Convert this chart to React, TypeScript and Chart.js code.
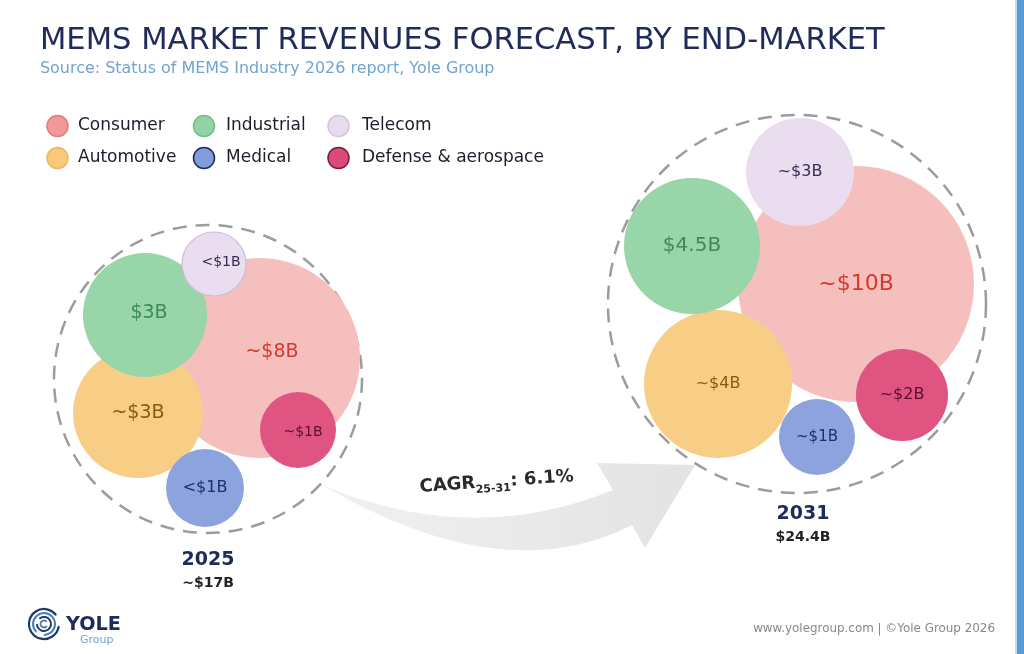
import { useEffect, useRef } from 'react';
import { Chart, registerables } from 'chart.js';

Chart.register(...registerables);

const FONT = '"DejaVu Sans", "Noto Sans", sans-serif';

// ---- data ----
const segments = ['Consumer', 'Industrial', 'Telecom', 'Automotive', 'Medical', 'Defense & aerospace'];
const years = ['2025', '2031'];
const totals = ['~$17B', '$24.4B'];
const cagrValue = '6.1%';
const cagrPeriod = '25-31';

const labels2025 = ['~$8B', '$3B', '<$1B', '~$3B', '<$1B', '~$1B'];
const labels2031 = ['~$10B', '$4.5B', '~$3B', '~$4B', '~$1B', '~$2B'];

// bubble radius (px) for each segment
const size2025 = [100, 62, 32, 65, 39, 38];
const size2031 = [118, 68, 54, 74, 38, 46];

// bubble placement in the packed clusters (scale units)
const posX2025 = [260, 145, 214, 138, 205, 298];
const posY2025 = [358, 315, 264, 413, 488, 430];
const posX2031 = [856, 692, 800, 718, 817, 902];
const posY2031 = [284, 246, 172, 384, 437, 395];

// ---- styling ----
const bubbleFill = ['#F4BFBD', '#98D5A8', '#EADDEF', '#F8CE87', '#8CA3DD', '#DF5480'];
const bubbleBorder = ['#F4BFBD', '#98D5A8', '#CDBBDA', '#F8CE87', '#8CA3DD', '#DF5480'];
const labelColor = ['#D43A30', '#3F8A55', '#3A2A55', '#8A5A0E', '#1F2D6D', '#5A1030'];
const legendFill = ['#EF9A98', '#93D3A3', '#E8DCEC', '#F8C979', '#819DDC', '#DC4B76'];
const legendBorder = ['#E07C7A', '#74BF86', '#D3C5DC', '#F0B75C', '#1E2A5E', '#7D1B3C'];
const drawOrder = [6, 4, 3, 5, 2, 1];

const labelSize2025 = [19, 19, 14, 19, 16, 14];
const labelSize2031 = [22, 20, 16, 16, 15, 16];
const labelDX2025 = [12, 4, 7, 0, 0, 5];
const labelDY2025 = [-6, -2, -2, 0, 0, 2];

const clusterX = [208, 797];
const clusterY = [379, 304];
const clusterR = [154, 189];
const yearX = [208, 803];
const yearY = [558, 512];

const TITLE = 'MEMS MARKET REVENUES FORECAST, BY END-MARKET';
const SUBTITLE = 'Source: Status of MEMS Industry 2026 report, Yole Group';
const FOOTER = 'www.yolegroup.com | \u00A9Yole Group 2026';

function fitFont(ctx: CanvasRenderingContext2D, text: string, weight: string, target: number, base: number) {
  ctx.font = `${weight} ${base}px ${FONT}`;
  const w = ctx.measureText(text).width;
  const size = (base * target) / w;
  ctx.font = `${weight} ${size}px ${FONT}`;
}

const decor = {
  id: 'decor',
  beforeDraw(chart: any) {
    const ctx: CanvasRenderingContext2D = chart.ctx;
    ctx.save();
    ctx.fillStyle = '#FFFFFF';
    ctx.fillRect(0, 0, chart.width, chart.height);
    ctx.restore();
  },
  beforeDatasetsDraw(chart: any) {
    const ctx: CanvasRenderingContext2D = chart.ctx;
    const xs = chart.scales.x;
    const ys = chart.scales.y;
    const P = (x: number, y: number): [number, number] => [xs.getPixelForValue(x), ys.getPixelForValue(y)];

    // growth arrow between the two clusters
    ctx.save();
    const tail = P(322, 485);
    const topCtrl = P(472, 548);
    const topJoin = P(613, 490);
    const headA = P(597, 463);
    const tip = P(695, 465);
    const headB = P(645, 548);
    const botJoin = P(632, 525);
    const botCtrl = P(503, 591);
    const grad = ctx.createLinearGradient(tail[0], 0, tip[0], 0);
    grad.addColorStop(0, '#F1F1F1');
    grad.addColorStop(1, '#E3E3E3');
    ctx.fillStyle = grad;
    ctx.beginPath();
    ctx.moveTo(tail[0], tail[1]);
    ctx.quadraticCurveTo(topCtrl[0], topCtrl[1], topJoin[0], topJoin[1]);
    ctx.lineTo(headA[0], headA[1]);
    ctx.lineTo(tip[0], tip[1]);
    ctx.lineTo(headB[0], headB[1]);
    ctx.lineTo(botJoin[0], botJoin[1]);
    ctx.quadraticCurveTo(botCtrl[0], botCtrl[1], tail[0], tail[1]);
    ctx.closePath();
    ctx.fill();
    ctx.restore();

    // dashed cluster outlines
    ctx.save();
    ctx.strokeStyle = '#9C9C9C';
    ctx.lineWidth = 2.5;
    ctx.setLineDash([14, 9]);
    for (let k = 0; k < clusterX.length; k++) {
      const [cx, cy] = P(clusterX[k], clusterY[k]);
      ctx.beginPath();
      ctx.arc(cx, cy, clusterR[k], 0, Math.PI * 2);
      ctx.stroke();
    }
    ctx.restore();
  },
  afterDatasetsDraw(chart: any) {
    const ctx: CanvasRenderingContext2D = chart.ctx;
    const xs = chart.scales.x;
    const ys = chart.scales.y;

    // values inside bubbles
    ctx.save();
    ctx.textAlign = 'center';
    ctx.textBaseline = 'middle';
    segments.forEach((_, i) => {
      const meta = chart.getDatasetMeta(i);
      const a = meta.data[0];
      const b = meta.data[1];
      ctx.fillStyle = labelColor[i];
      ctx.font = `normal ${labelSize2025[i]}px ${FONT}`;
      ctx.fillText(labels2025[i], a.x + labelDX2025[i], a.y + labelDY2025[i]);
      ctx.font = `normal ${labelSize2031[i]}px ${FONT}`;
      ctx.fillText(labels2031[i], b.x, b.y);
    });
    ctx.restore();

    // year + total under each cluster
    ctx.save();
    ctx.textAlign = 'center';
    ctx.textBaseline = 'alphabetic';
    years.forEach((yr, k) => {
      const x = xs.getPixelForValue(yearX[k]);
      const y = ys.getPixelForValue(yearY[k]);
      ctx.fillStyle = '#1F2B5B';
      ctx.font = `bold 19px ${FONT}`;
      ctx.fillText(yr, x, y + 7);
      ctx.fillStyle = '#222222';
      ctx.font = `bold 14px ${FONT}`;
      ctx.fillText(totals[k], x, y + 29);
    });
    ctx.restore();

    // CAGR label on the arrow
    ctx.save();
    ctx.translate(xs.getPixelForValue(420), ys.getPixelForValue(492));
    ctx.rotate((-4 * Math.PI) / 180);
    ctx.fillStyle = '#2A2A2A';
    ctx.textAlign = 'left';
    ctx.textBaseline = 'alphabetic';
    ctx.font = `bold 18px ${FONT}`;
    ctx.fillText('CAGR', 0, 0);
    let cx = ctx.measureText('CAGR').width;
    ctx.font = `bold 11px ${FONT}`;
    ctx.fillText(cagrPeriod, cx, 5);
    cx += ctx.measureText(cagrPeriod).width;
    ctx.font = `bold 18px ${FONT}`;
    ctx.fillText(': ' + cagrValue, cx, 0);
    ctx.restore();

    // header
    ctx.save();
    ctx.textAlign = 'left';
    ctx.textBaseline = 'alphabetic';
    ctx.fillStyle = '#1F2B5B';
    fitFont(ctx, TITLE, 'normal', 845, 30);
    ctx.fillText(TITLE, 40, 48.5);
    ctx.fillStyle = '#6FA5D2';
    fitFont(ctx, SUBTITLE, 'normal', 455, 15);
    ctx.fillText(SUBTITLE, 40, 73);
    ctx.restore();

    // legend
    ctx.save();
    const colX = [57.5, 204, 338.5];
    const textX = [78, 226, 362];
    const rowY = [126, 158];
    ctx.textAlign = 'left';
    ctx.textBaseline = 'middle';
    segments.forEach((name, i) => {
      const c = i % 3;
      const r = Math.floor(i / 3);
      ctx.beginPath();
      ctx.arc(colX[c], rowY[r], 10.5, 0, Math.PI * 2);
      ctx.fillStyle = legendFill[i];
      ctx.fill();
      ctx.lineWidth = 1.5;
      ctx.strokeStyle = legendBorder[i];
      ctx.stroke();
      ctx.fillStyle = '#1D1D2B';
      ctx.font = `normal 17px ${FONT}`;
      ctx.fillText(name, textX[c], rowY[r]);
    });
    ctx.restore();

    // logo
    ctx.save();
    const lx = 44;
    const ly = 624;
    ctx.lineCap = 'round';
    const rings = [
      { r: 15, a0: 0.2, a1: 5.6, c: '#1F3A6B', w: 2.2 },
      { r: 11, a0: 2.4, a1: 7.8, c: '#4A7FB8', w: 2 },
      { r: 7, a0: 4.1, a1: 9.3, c: '#1F3A6B', w: 2 },
      { r: 3.5, a0: 0.8, a1: 5.4, c: '#4A7FB8', w: 1.8 },
    ];
    rings.forEach((g) => {
      ctx.beginPath();
      ctx.arc(lx, ly, g.r, g.a0, g.a1);
      ctx.strokeStyle = g.c;
      ctx.lineWidth = g.w;
      ctx.stroke();
    });
    ctx.textAlign = 'left';
    ctx.textBaseline = 'alphabetic';
    ctx.fillStyle = '#1F2B5B';
    fitFont(ctx, 'YOLE', 'bold', 55, 21);
    ctx.fillText('YOLE', 66, 630);
    ctx.fillStyle = '#6FA5D2';
    ctx.font = `normal 11px ${FONT}`;
    ctx.fillText('Group', 80, 643);
    ctx.restore();

    // footer
    ctx.save();
    ctx.textAlign = 'right';
    ctx.textBaseline = 'alphabetic';
    ctx.fillStyle = '#888888';
    fitFont(ctx, FOOTER, 'normal', 242, 12);
    ctx.fillText(FOOTER, 995, 632);
    ctx.restore();

    // right edge band
    ctx.save();
    ctx.fillStyle = '#C3DBEF';
    ctx.fillRect(1015, 0, 2, chart.height);
    ctx.fillStyle = '#5B9BD5';
    ctx.fillRect(1017, 0, 7, chart.height);
    ctx.restore();
  },
};

export default function App() {
  const canvasRef = useRef<HTMLCanvasElement>(null);

  useEffect(() => {
    document.body.style.margin = '0';
    const canvas = canvasRef.current;
    if (!canvas) return;

    const datasets = segments.map((name, i) => ({
      label: name,
      data: [
        { x: posX2025[i], y: posY2025[i], r: size2025[i] },
        { x: posX2031[i], y: posY2031[i], r: size2031[i] },
      ],
      backgroundColor: bubbleFill[i],
      borderColor: bubbleBorder[i],
      borderWidth: i === 2 ? [1.2, 0] : 0,
      hoverBorderWidth: 0,
      hoverRadius: 0,
      order: drawOrder[i],
      clip: false,
    }));

    const chart = new Chart(canvas, {
      type: 'bubble',
      data: { datasets },
      options: {
        responsive: false,
        animation: false,
        events: [],
        layout: { padding: 0, autoPadding: false },
        scales: {
          x: { type: 'linear', min: 0, max: 1024, display: false },
          y: { type: 'linear', min: 0, max: 654, reverse: true, display: false },
        },
        plugins: {
          legend: { display: false },
          tooltip: { enabled: false },
          title: { display: false },
        },
      },
      plugins: [decor],
    } as any);

    return () => chart.destroy();
  }, []);

  return <canvas ref={canvasRef} width={1024} height={654} style={{ display: 'block' }} />;
}
